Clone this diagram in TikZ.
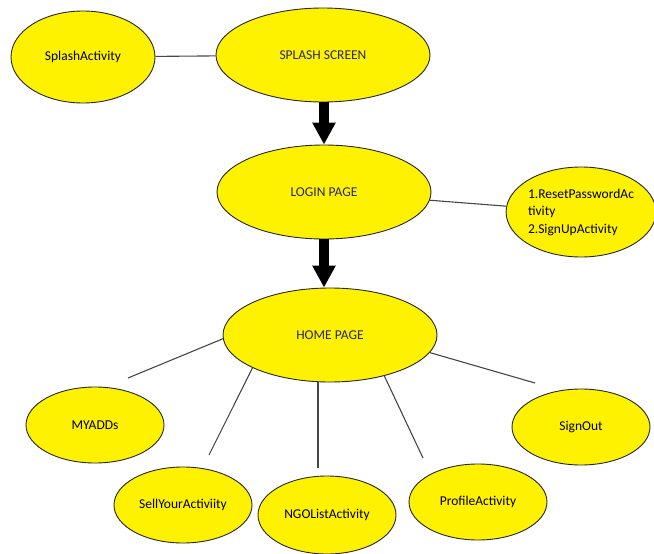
\documentclass[tikz,border=0pt]{standalone}
\usepackage{fontspec}
\setmainfont{Carlito}
\usetikzlibrary{arrows.meta, shapes.geometric}

\definecolor{bubblefill}{RGB}{255,242,0}
\definecolor{pagetext}{RGB}{40,40,95}
\definecolor{wirecolor}{RGB}{70,70,70}

\tikzset{
  bubble/.style={ellipse, draw=black!85, line width=0.9pt, fill=bubblefill,
    inner sep=0pt, font=\fontsize{13.5}{17.5}\selectfont},
  pagebubble/.style={bubble, minimum width=214pt, minimum height=94pt,
    text=pagetext},
  actbubble/.style={bubble, minimum width=138pt, minimum height=76pt},
  wire/.style={draw=wirecolor, line width=1.1pt},
  flow/.style={line width=10pt, -{Triangle[width=22pt,length=22pt]}}
}

\begin{document}
\begin{tikzpicture}[x=1pt,y=-1pt]
\useasboundingbox (0,0) rectangle (654,554);
% Pages along the main flow
\node[pagebubble] (splash) at (323,55) {SPLASH SCREEN};
\node[pagebubble] (login) at (324,192) {LOGIN PAGE};
\node[pagebubble] (home) at (330,335) {HOME PAGE};
% Activities beside the first two pages
\node[bubble, minimum width=144pt, minimum height=92pt] (splashact) at (83,57) {SplashActivity};
\node[bubble, minimum width=142pt, minimum height=90pt, align=left] (loginact) at (581,212)
  {1.ResetPasswordAc\\tivity\\2.SignUpActivity};
% Activities below the home page
\node[actbubble] (myadds) at (95,425) {MYADDs};
\node[actbubble] (sell) at (183,505) {SellYourActiviity};
\node[actbubble, minimum height=78pt] (ngo) at (327,515) {NGOListActivity};
\node[actbubble] (profile) at (478,502) {ProfileActivity};
\node[actbubble] (signout) at (581,427) {SignOut};
% Free ends of the lines under the home page
\coordinate (myaddsend) at (128,378);
\coordinate (sellend) at (209,455);
\coordinate (ngoend) at (318,468);
\coordinate (profileend) at (423,458);
\coordinate (signoutend) at (535,383);
% Thick arrows of the flow
\draw[flow] (login.north |- splash.south) -- (login.north);
\draw[flow] (login.south) -- (login.south |- home.north);
% Plain lines
\draw[wire] (splashact) -- (splash);
\draw[wire] (login) -- (loginact);
\draw[wire] (home.182) -- (myaddsend);
\draw[wire] (home.203) -- (sellend);
\draw[wire] (home.south -| ngoend) -- (ngoend);
\draw[wire] (home.323) -- (profileend);
\draw[wire] (home.350) -- (signoutend);
\end{tikzpicture}
\end{document}
